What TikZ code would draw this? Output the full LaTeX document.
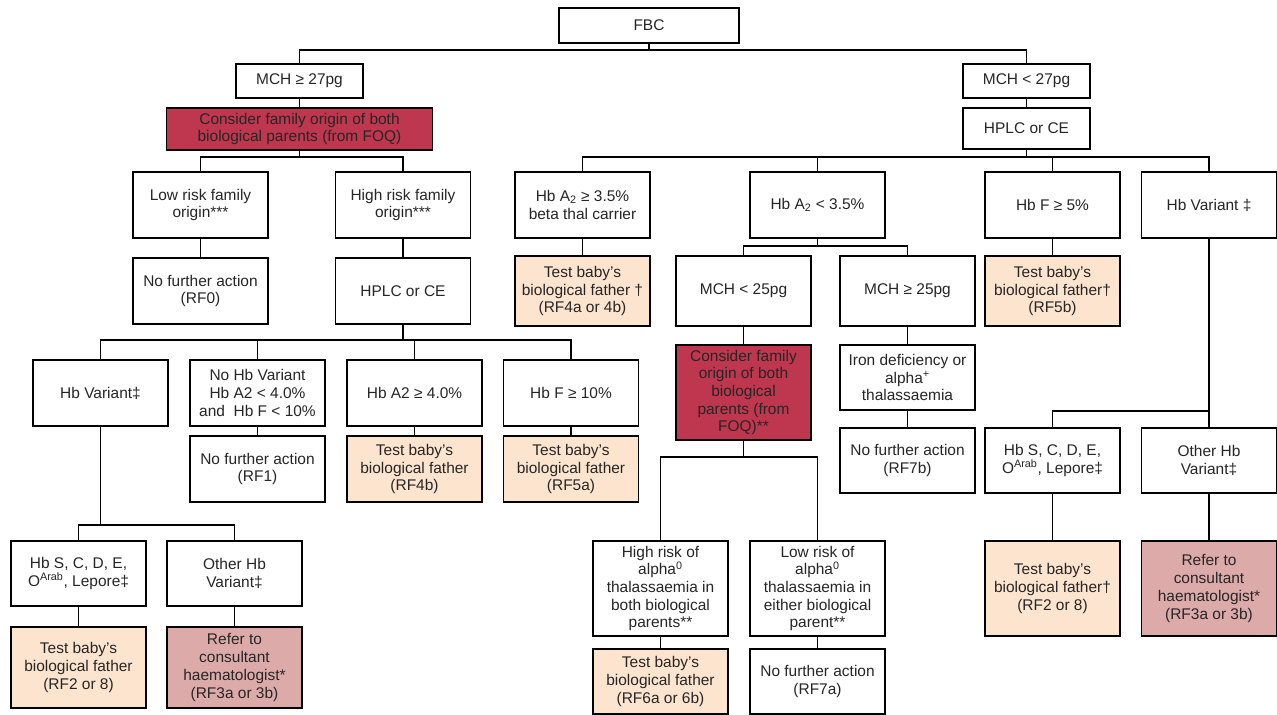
\documentclass[tikz,border=0pt]{standalone}
\usepackage{fontspec}
\setmainfont{Liberation Sans}
\definecolor{familyred}{RGB}{191,54,79}
\definecolor{fatherpeach}{RGB}{252,228,206}
\definecolor{referrose}{RGB}{221,170,170}
\tikzstyle{box} = [rectangle, minimum width=3.375cm, minimum height=1.65cm, inner sep=1pt, text centered, align=center, draw=black, fill=white, line width=1pt, text=black!85, font=\fontsize{11}{12.6}\selectfont]
\tikzstyle{familybox} = [box, fill=familyred]
\tikzstyle{fatherbox} = [box, fill=fatherpeach]
\tikzstyle{referbox} = [box, fill=referrose]
\tikzstyle{tallbox} = [minimum height=2.375cm]
\tikzstyle{link} = [line width=1pt]

\begin{document}
\begin{tikzpicture}[x=0.025cm, y=-0.025cm]
\useasboundingbox (0,0) rectangle (1277,715);

% junction levels
\coordinate (jtop) at (0,50);
\coordinate (jrow) at (0,157);
\coordinate (jmid) at (0,246);
\coordinate (jhplc) at (0,340);
\coordinate (jright) at (0,411);
\coordinate (jalpha) at (0,457);
\coordinate (jvariant) at (0,525);

% FBC
\node[box, minimum width=4.5cm, minimum height=0.875cm] (fbc) at (649,25.5) {FBC};
\node[box, minimum width=3.175cm, minimum height=0.85cm] (mchhi) at (299.5,81) {MCH ≥ 27pg};
\node[box, minimum width=3.175cm, minimum height=0.85cm] (mchlo) at (1026.5,81) {MCH < 27pg};
\draw[link] (fbc.south) -- (fbc.south |- jtop) -| (mchhi.north);
\draw[link] (fbc.south |- jtop) -| (mchlo.north);

% MCH >= 27pg: family origin
\node[familybox, below of=mchhi, node distance=1.2cm, minimum width=6.65cm, minimum height=1.05cm] (originL) {Consider family origin of both\\biological parents (from FOQ)};
\draw[link] (mchhi) -- (originL);
\node[box] (lowrisk) at (200.5,205) {Low risk family\\origin***};
\node[box] (highrisk) at (403,205) {High risk family\\origin***};
\draw[link] (originL.south) -- (originL.south |- jrow) -| (lowrisk.north);
\draw[link] (originL.south |- jrow) -| (highrisk.north);
\begin{scope}[node distance=2.15cm]
\node[box, below of=lowrisk] (noact0) {No further action\\(RF0)};
\node[box, below of=highrisk] (hplcL) {HPLC or CE};
\end{scope}
\draw[link] (lowrisk) -- (noact0);
\draw[link] (highrisk) -- (hplcL);

% HPLC or CE for high risk origin
\node[box] (hbvarL) at (100.5,393) {Hb Variant‡};
\node[box] (nohbvar) at (257.5,393) {No Hb Variant\\Hb A2 < 4.0\%\\and~ Hb F < 10\%};
\node[box] (hba4) at (414.5,393) {Hb A2 ≥ 4.0\%};
\node[box] (hbf10) at (571,393) {Hb F ≥ 10\%};
\draw[link] (hplcL.south) -- (hplcL.south |- jhplc) -| (hbvarL.north);
\draw[link] (hplcL.south |- jhplc) -| (nohbvar.north);
\draw[link] (hplcL.south |- jhplc) -| (hba4.north);
\draw[link] (hplcL.south |- jhplc) -| (hbf10.north);
\begin{scope}[node distance=1.9cm]
\node[box, below of=nohbvar] (noact1) {No further action\\(RF1)};
\node[fatherbox, below of=hba4] (fatherB) {Test baby’s\\biological father\\(RF4b)};
\node[fatherbox, below of=hbf10] (fatherC) {Test baby’s\\biological father\\(RF5a)};
\end{scope}
\draw[link] (nohbvar) -- (noact1);
\draw[link] (hba4) -- (fatherB);
\draw[link] (hbf10) -- (fatherC);

% Hb variant (left)
\node[box, minimum height=1.625cm] (hbsL) at (78.5,573.5) {Hb S, C, D, E,\\O\textsuperscript{Arab}, Lepore‡};
\node[box, minimum height=1.625cm] (otherL) at (234.5,573.5) {Other Hb\\Variant‡};
\draw[link] (hbvarL.south) -- (hbvarL.south |- jvariant) -| (hbsL.north);
\draw[link] (hbvarL.south |- jvariant) -| (otherL.north);
\begin{scope}[node distance=2.35cm]
\node[fatherbox, below of=hbsL, minimum height=2.025cm] (fatherL) {Test baby’s\\biological father\\(RF2 or 8)};
\node[referbox, below of=otherL, minimum height=2.025cm] (referL) {Refer to\\consultant\\haematologist*\\(RF3a or 3b)};
\end{scope}
\draw[link] (hbsL) -- (fatherL);
\draw[link] (otherL) -- (referL);

% MCH < 27pg: HPLC or CE
\node[box, below of=mchlo, node distance=1.1875cm, minimum width=3.175cm, minimum height=1.025cm] (hplcR) {HPLC or CE};
\draw[link] (mchlo) -- (hplcR);
\node[box] (hbaHi) at (582.5,205) {Hb A\textsubscript{2} ≥ 3.5\%\\beta thal carrier};
\node[box] (hbaLo) at (817.5,205) {Hb A\textsubscript{2} < 3.5\%};
\node[box] (hbfR) at (1052.5,205) {Hb F ≥ 5\%};
\node[box] (hbvarR) at (1209,205) {Hb Variant ‡};
\draw[link] (hplcR.south) -- (hplcR.south |- jrow) -| (hbaHi.north);
\draw[link] (hplcR.south |- jrow) -| (hbaLo.north);
\draw[link] (hplcR.south |- jrow) -| (hbfR.north);
\draw[link] (hplcR.south |- jrow) -| (hbvarR.north);
\begin{scope}[node distance=2.15cm]
\node[fatherbox, below of=hbaHi, minimum height=1.75cm] (fatherA) {Test baby’s\\biological father †\\(RF4a or 4b)};
\node[fatherbox, below of=hbfR, minimum height=1.75cm] (fatherF) {Test baby’s\\biological father†\\(RF5b)};
\end{scope}
\draw[link] (hbaHi) -- (fatherA);
\draw[link] (hbfR) -- (fatherF);

% Hb A2 < 3.5%
\node[box, minimum height=1.75cm] (mch25lo) at (743.5,291) {MCH < 25pg};
\node[box, minimum height=1.75cm] (mch25hi) at (907.5,291) {MCH ≥ 25pg};
\draw[link] (hbaLo.south) -- (hbaLo.south |- jmid) -| (mch25lo.north);
\draw[link] (hbaLo.south |- jmid) -| (mch25hi.north);
\node[familybox, tallbox, below of=mch25lo, node distance=2.5375cm] (originM) {Consider family\\origin of both\\biological\\parents (from\\FOQ)**};
\node[box, below of=mch25hi, node distance=2.1625cm, minimum height=1.625cm] (iron) {Iron deficiency or\\alpha\textsuperscript{+}\\thalassaemia};
\node[box, below of=iron, node distance=2.075cm, minimum height=1.625cm] (noact7b) {No further action\\(RF7b)};
\draw[link] (mch25lo) -- (originM);
\draw[link] (mch25hi) -- (iron);
\draw[link] (iron) -- (noact7b);

% alpha zero thalassaemia risk
\node[box, tallbox] (highalpha) at (660.5,588.5) {High risk of\\alpha\textsuperscript{0}\\thalassaemia in\\both biological\\parents**};
\node[box, tallbox] (lowalpha) at (817.5,588.5) {Low risk of\\alpha\textsuperscript{0}\\thalassaemia in\\either biological\\parent**};
\draw[link] (originM.south) -- (originM.south |- jalpha) -| (highalpha.north);
\draw[link] (originM.south |- jalpha) -| (lowalpha.north);
\begin{scope}[node distance=2.325cm]
\node[fatherbox, below of=highalpha, minimum height=1.625cm] (fatherM) {Test baby’s\\biological father\\(RF6a or 6b)};
\node[box, below of=lowalpha, minimum height=1.625cm] (noact7a) {No further action\\(RF7a)};
\end{scope}
\draw[link] (highalpha) -- (fatherM);
\draw[link] (lowalpha) -- (noact7a);

% Hb variant (right)
\node[box, minimum height=1.625cm] (hbsR) at (1052.5,460.5) {Hb S, C, D, E,\\O\textsuperscript{Arab}, Lepore‡};
\node[box, minimum height=1.625cm] (otherR) at (1209,460.5) {Other Hb\\Variant‡};
\draw[link] (hbvarR) -- (otherR);
\draw[link] (hbvarR.south |- jright) -| (hbsR.north);
\begin{scope}[node distance=3.2cm]
\node[fatherbox, tallbox, below of=hbsR] (fatherR) {Test baby’s\\biological father†\\(RF2 or 8)};
\node[referbox, tallbox, below of=otherR] (referR) {Refer to\\consultant\\haematologist*\\(RF3a or 3b)};
\end{scope}
\draw[link] (hbsR) -- (fatherR);
\draw[link] (otherR) -- (referR);

\end{tikzpicture}
\end{document}
